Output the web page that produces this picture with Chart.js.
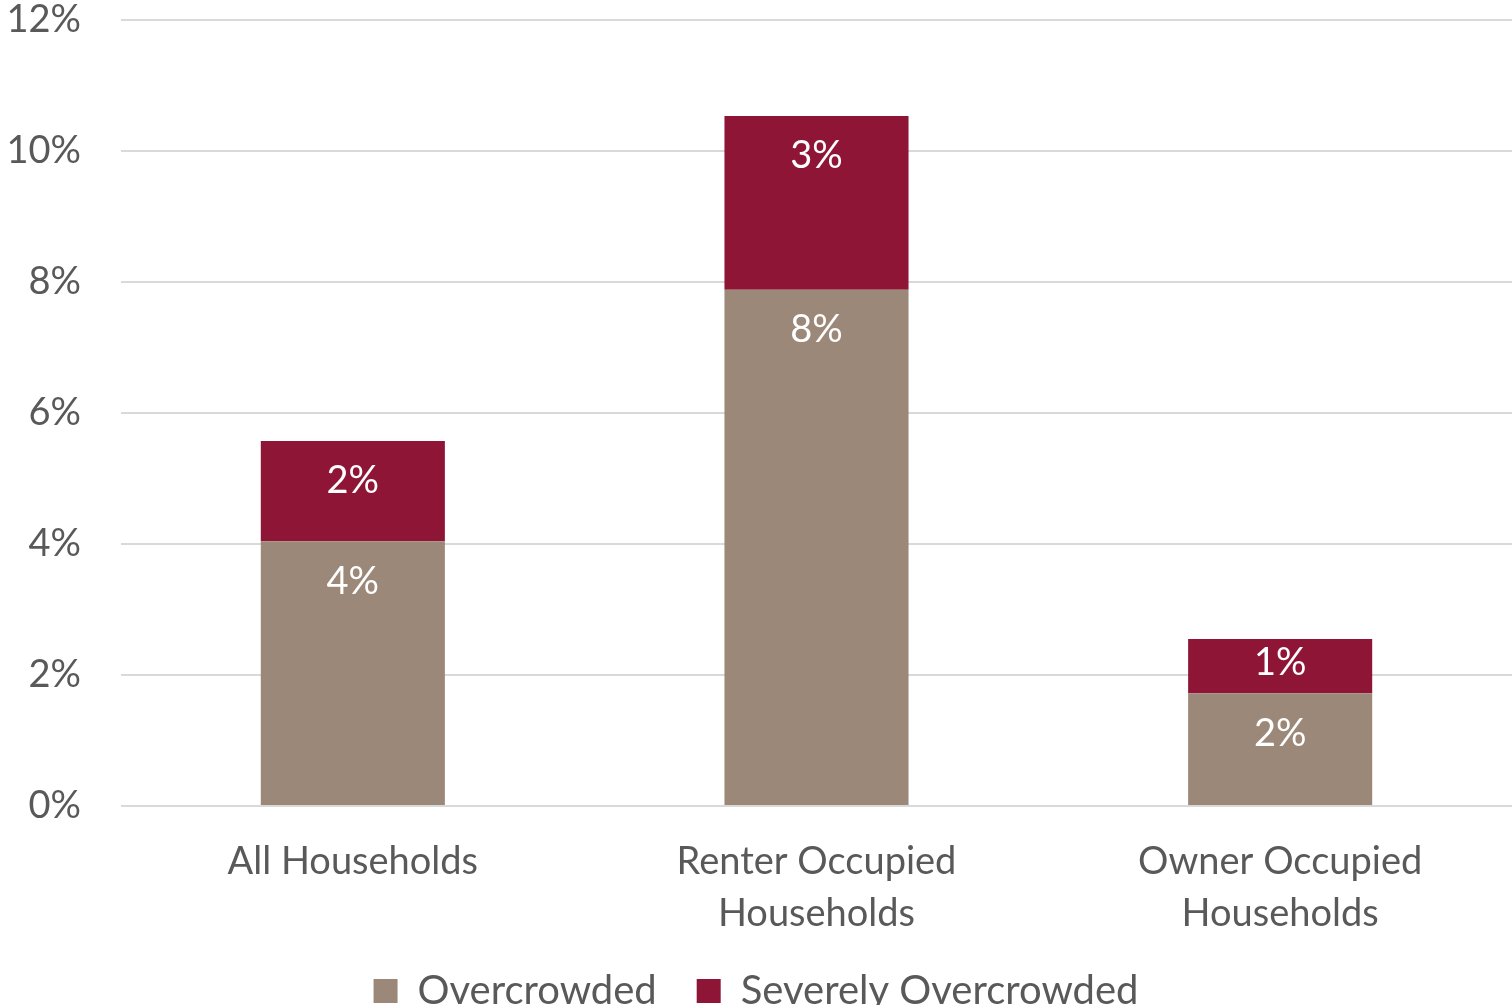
<!DOCTYPE html>
<html>
<head>
<meta charset="utf-8">
<script src="https://cdn.jsdelivr.net/npm/chart.js@4.4.0/dist/chart.umd.min.js"></script>
<style>
  html, body { margin: 0; padding: 0; background: white; overflow: hidden; }
  #wrap { width: 1512px; height: 1064px; margin-top: -43px; position: relative; }
</style>
</head>
<body>
<div id="wrap"><canvas id="chart"></canvas></div>
<script>
// Overcrowding by household tenure (stacked bars)
const categories = ['All Households', ['Renter Occupied', 'Households'], ['Owner Occupied', 'Households']];
const overcrowded = [4.04, 7.88, 1.72];
const severelyOvercrowded = [1.53, 2.65, 0.83];
const yTicks = [0, 2, 4, 6, 8, 10, 12];

const FONT = 'Lato, "Open Sans", sans-serif';
const GREY_TEXT = '#595959';

// draws the rounded % labels inside the top of each bar segment
const barLabels = {
  id: 'barLabels',
  afterDatasetsDraw(chart) {
    const ctx = chart.ctx;
    ctx.save();
    ctx.fillStyle = '#ffffff';
    ctx.font = '38px ' + FONT;
    ctx.textAlign = 'center';
    ctx.textBaseline = 'middle';
    chart.data.datasets.forEach((ds, i) => {
      const meta = chart.getDatasetMeta(i);
      meta.data.forEach((bar, j) => {
        const h = bar.base - bar.y;
        const y = bar.y + Math.min(40, h / 2 - 3);
        ctx.fillText(Math.round(ds.data[j]) + '%', bar.x, y);
      });
    });
    ctx.restore();
  }
};

new Chart(document.getElementById('chart'), {
  type: 'bar',
  data: {
    labels: categories,
    datasets: [
      {
        label: 'Overcrowded',
        data: overcrowded,
        backgroundColor: '#9c8878',
        categoryPercentage: 1,
        barPercentage: 0.397,
      },
      {
        label: 'Severely Overcrowded',
        data: severelyOvercrowded,
        backgroundColor: '#8e1535',
        categoryPercentage: 1,
        barPercentage: 0.397,
      },
    ]
  },
  options: {
    responsive: true,
    maintainAspectRatio: false,
    animation: false,
    layout: { padding: 0 },
    plugins: {
      legend: {
        position: 'bottom',
        labels: {
          font: { family: FONT, size: 40 },
          color: GREY_TEXT,
          boxWidth: 24,
          boxHeight: 24,
          padding: 40,
        }
      },
      tooltip: { enabled: false },
    },
    scales: {
      x: {
        stacked: true,
        grid: { display: false, drawTicks: false },
        border: { display: false },
        ticks: {
          color: GREY_TEXT,
          font: { family: FONT, size: 38, lineHeight: 1.37 },
          padding: 30,
          maxRotation: 0,
        },
        afterFit(scale) { scale.height = 125; }
      },
      y: {
        stacked: true,
        min: 0,
        max: 12,
        afterBuildTicks(scale) { scale.ticks = yTicks.map(v => ({ value: v })); },
        grid: { color: '#d9d9d9', lineWidth: 2, drawTicks: false },
        border: { display: false },
        ticks: {
          color: GREY_TEXT,
          font: { family: FONT, size: 38 },
          padding: 40,
          callback: v => v + '%',
        },
        afterFit(scale) { scale.width = 121; }
      }
    }
  },
  plugins: [barLabels]
});
</script>
</body>
</html>
